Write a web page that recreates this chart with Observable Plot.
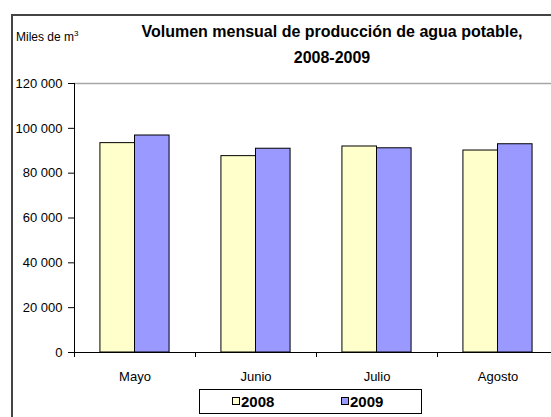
<!DOCTYPE html>
<html>
<head>
<meta charset="utf-8">
<script src="https://cdn.jsdelivr.net/npm/d3@7"></script>
<script src="https://cdn.jsdelivr.net/npm/@observablehq/plot@0.6"></script>
<style>
html, body { margin: 0; padding: 0; background: #fff; overflow: hidden; }
#wrap { position: relative; width: 551px; height: 417px; overflow: hidden; font-family: "Liberation Sans", Arial, sans-serif; color: #000; }
#frame { position: absolute; left: 11px; top: 14px; width: 600px; height: 500px; border: 2px solid #444; box-sizing: border-box; }
#chart { position: absolute; left: 0; top: 0; width: 566px; height: 417px; }
#chart svg { max-width: none !important; }
.title { position: absolute; left: 132px; width: 400px; text-align: center; font-weight: bold; font-size: 16px; line-height: 20px; white-space: nowrap; }
#unit { position: absolute; left: 16px; top: 29px; font-size: 12px; line-height: 16px; white-space: nowrap; }
#unit sup { font-size: 8px; vertical-align: 0; position: relative; top: -5px; }
#legend { position: absolute; left: 199px; top: 389px; width: 223px; height: 25px; border: 1px solid #000; box-sizing: border-box; background: #fff; }
.item { position: absolute; top: 0; height: 23px; }
.sw { position: absolute; top: 7px; width: 8px; height: 8px; border: 1px solid #000; box-sizing: border-box; }
.lab { position: absolute; top: 3px; left: 9px; font-weight: bold; font-size: 15px; line-height: 18px; white-space: nowrap; }
</style>
</head>
<body>
<div id="wrap">
  <div id="frame"></div>
  <div id="chart"></div>
  <div class="title" id="t1" style="top:22px"></div>
  <div class="title" id="t2" style="top:48px"></div>
  <div id="unit">Miles de m<sup>3</sup></div>
  <div id="legend"></div>
</div>
<script>
const titleLine1 = "Volumen mensual de producción de agua potable,";
const titleLine2 = "2008-2009";
const months = ["Mayo", "Junio", "Julio", "Agosto"];
const years = ["2008", "2009"];
const values2008 = [93400, 87600, 91900, 90100];
const values2009 = [96800, 90900, 91100, 92900];
const yTicks = [0, 20000, 40000, 60000, 80000, 100000, 120000];
const colors = ["#FFFFCC", "#9999FF"];

document.getElementById("t1").textContent = titleLine1;
document.getElementById("t2").textContent = titleLine2;

const seriesValues = {"2008": values2008, "2009": values2009};
const data = months.flatMap((m, i) => years.map(y => ({month: m, year: y, value: seriesValues[y][i]})));
const fmt = d => d3.format(",")(d).replace(/,/g, " ");

const chart = Plot.plot({
  width: 566,
  height: 417,
  marginLeft: 74,
  marginRight: 8,
  marginTop: 83,
  marginBottom: 65,
  style: {fontFamily: "'Liberation Sans', Arial, sans-serif", fontSize: "13px", color: "#000", background: "transparent", overflow: "visible", maxWidth: "none"},
  fx: {domain: months, paddingInner: 0, paddingOuter: 0, round: false, label: null},
  x: {domain: years, paddingInner: 0, paddingOuter: 0.75, round: false, axis: null},
  y: {domain: [0, 120000], label: null},
  color: {domain: years, range: colors},
  marks: [
    Plot.ruleY([120000], {stroke: "#a6a6a6", strokeWidth: 1.5}),
    Plot.barY(data, {fx: "month", x: "year", y: "value", fill: "year", stroke: "#000", strokeWidth: 1}),
    Plot.ruleY([0], {stroke: "#000"}),
    Plot.axisY({ticks: yTicks, tickSize: 6, tickPadding: 6, tickFormat: fmt, fontSize: 13, label: null}),
    Plot.axisFx({anchor: "bottom", tickSize: 0, tickPadding: 19, fontSize: 13, label: null}),
    Plot.frame({anchor: "left", facetAnchor: "left", stroke: "#000", insetBottom: -4}),
    Plot.frame({anchor: "left", stroke: "#000", insetTop: 269, insetBottom: -4})
  ]
});
document.getElementById("chart").appendChild(chart);

const legend = document.getElementById("legend");
const itemLeft = [32, 141];
years.forEach((y, i) => {
  const item = document.createElement("div");
  item.className = "item";
  item.style.left = itemLeft[i] + "px";
  const sw = document.createElement("div");
  sw.className = "sw";
  sw.style.background = colors[i];
  const lab = document.createElement("div");
  lab.className = "lab";
  lab.textContent = y;
  item.appendChild(sw);
  item.appendChild(lab);
  legend.appendChild(item);
});
</script>
</body>
</html>
